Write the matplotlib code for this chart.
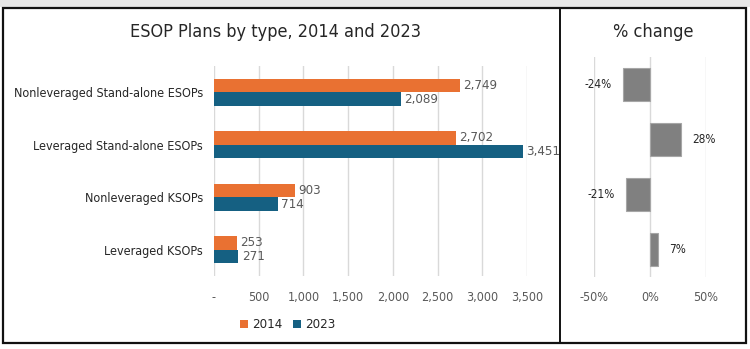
import matplotlib.pyplot as plt
from matplotlib.patches import Rectangle
from matplotlib.ticker import FuncFormatter

plt.rcParams['font.family'] = ['DejaVu Sans']
plt.rcParams['font.stretch'] = 'condensed'

categories = ["Nonleveraged Stand-alone ESOPs", "Leveraged Stand-alone ESOPs",
              "Nonleveraged KSOPs", "Leveraged KSOPs"]
plans_2014 = [2749, 2702, 903, 253]
plans_2023 = [2089, 3451, 714, 271]
pct_change = [-0.24, 0.28, -0.21, 0.07]
pct_labels = ["-24%", "28%", "-21%", "7%"]

orange = '#E97132'
blue = '#156082'
text_c = '#595959'
grid_c = '#D9D9D9'

fig = plt.figure(figsize=(7.5, 3.49), dpi=100)

# outer frame and top grey band
fig.patches.append(Rectangle((0, 1 - 7 / 349), 1, 7 / 349, transform=fig.transFigure,
                             facecolor='#E6E6E6', edgecolor='none'))
fig.patches.append(Rectangle((3 / 750, 1 - 343 / 349), 743 / 750, 335 / 349,
                             transform=fig.transFigure, facecolor='none',
                             edgecolor='#111111', lw=1.6))
fig.lines.append(plt.Line2D([560 / 750, 560 / 750], [1 - 343 / 349, 1 - 8 / 349],
                            transform=fig.transFigure, color='#111111', lw=1.4))

# left chart
ax = fig.add_axes([214 / 750, 1 - 276 / 349, 313 / 750, 210 / 349])
y = list(range(len(categories)))
h = 0.26
ax.barh([i - h / 2 for i in y], plans_2014, height=h, color=orange, label='2014')
ax.barh([i + h / 2 for i in y], plans_2023, height=h, color=blue, label='2023')
for i in y:
    ax.text(plans_2014[i] + 40, i - h / 2, f"{plans_2014[i]:,}", va='center', ha='left',
            fontsize=9.5, color=text_c)
    ax.text(plans_2023[i] + 40, i + h / 2, f"{plans_2023[i]:,}", va='center', ha='left',
            fontsize=9.5, color=text_c)
ax.set_xlim(0, 3500)
ax.set_ylim(len(categories) - 0.5, -0.5)
ax.set_xticks(range(0, 3501, 500))
ax.xaxis.set_major_formatter(FuncFormatter(lambda v, p: '-' if v == 0 else f"{int(v):,}"))
ax.set_yticks(y)
ax.set_yticklabels(categories)
ax.tick_params(length=0, labelsize=9, colors='#262626', pad=8)
ax.tick_params(axis='x', pad=11, labelsize=9, colors=text_c)
ax.grid(axis='x', color=grid_c, lw=1)
ax.set_axisbelow(True)
for s in ax.spines.values():
    s.set_visible(False)
fig.text(275 / 750, 1 - 32 / 349, "ESOP Plans by type, 2014 and 2023", ha='center',
         va='center', fontsize=13, color='#262626')
ax.legend(loc='center', bbox_to_anchor=(0.235, -0.233), ncol=2, frameon=False,
          fontsize=9.5, handlelength=0.6, handleheight=0.6, handletextpad=0.3,
          columnspacing=0.8, labelcolor='#262626')

# right chart
ax2 = fig.add_axes([594 / 750, 1 - 277 / 349, 112 / 750, 220 / 349])
ax2.barh(y, pct_change, height=0.6, color='#808080', edgecolor='#A6A6A6', lw=0.8)
for i in y:
    if pct_change[i] < 0:
        ax2.text(pct_change[i] - 0.1, i, pct_labels[i], ha='right', va='center',
                 fontsize=8.5, color='#262626')
    else:
        ax2.text(pct_change[i] + 0.1, i, pct_labels[i], ha='left', va='center',
                 fontsize=8.5, color='#262626')
ax2.set_xlim(-0.5, 0.5)
ax2.set_ylim(len(categories) - 0.5, -0.5)
ax2.set_xticks([-0.5, 0, 0.5])
ax2.xaxis.set_major_formatter(FuncFormatter(lambda v, p: f"{v * 100:.0f}%"))
ax2.set_yticks([])
ax2.tick_params(length=0, labelsize=9, colors=text_c, pad=10)
ax2.grid(axis='x', color=grid_c, lw=1)
ax2.set_axisbelow(True)
for s in ax2.spines.values():
    s.set_visible(False)
fig.text(653 / 750, 1 - 32 / 349, "% change", ha='center', va='center',
         fontsize=13, color='#262626')

fig.savefig('out.png', dpi=100)
